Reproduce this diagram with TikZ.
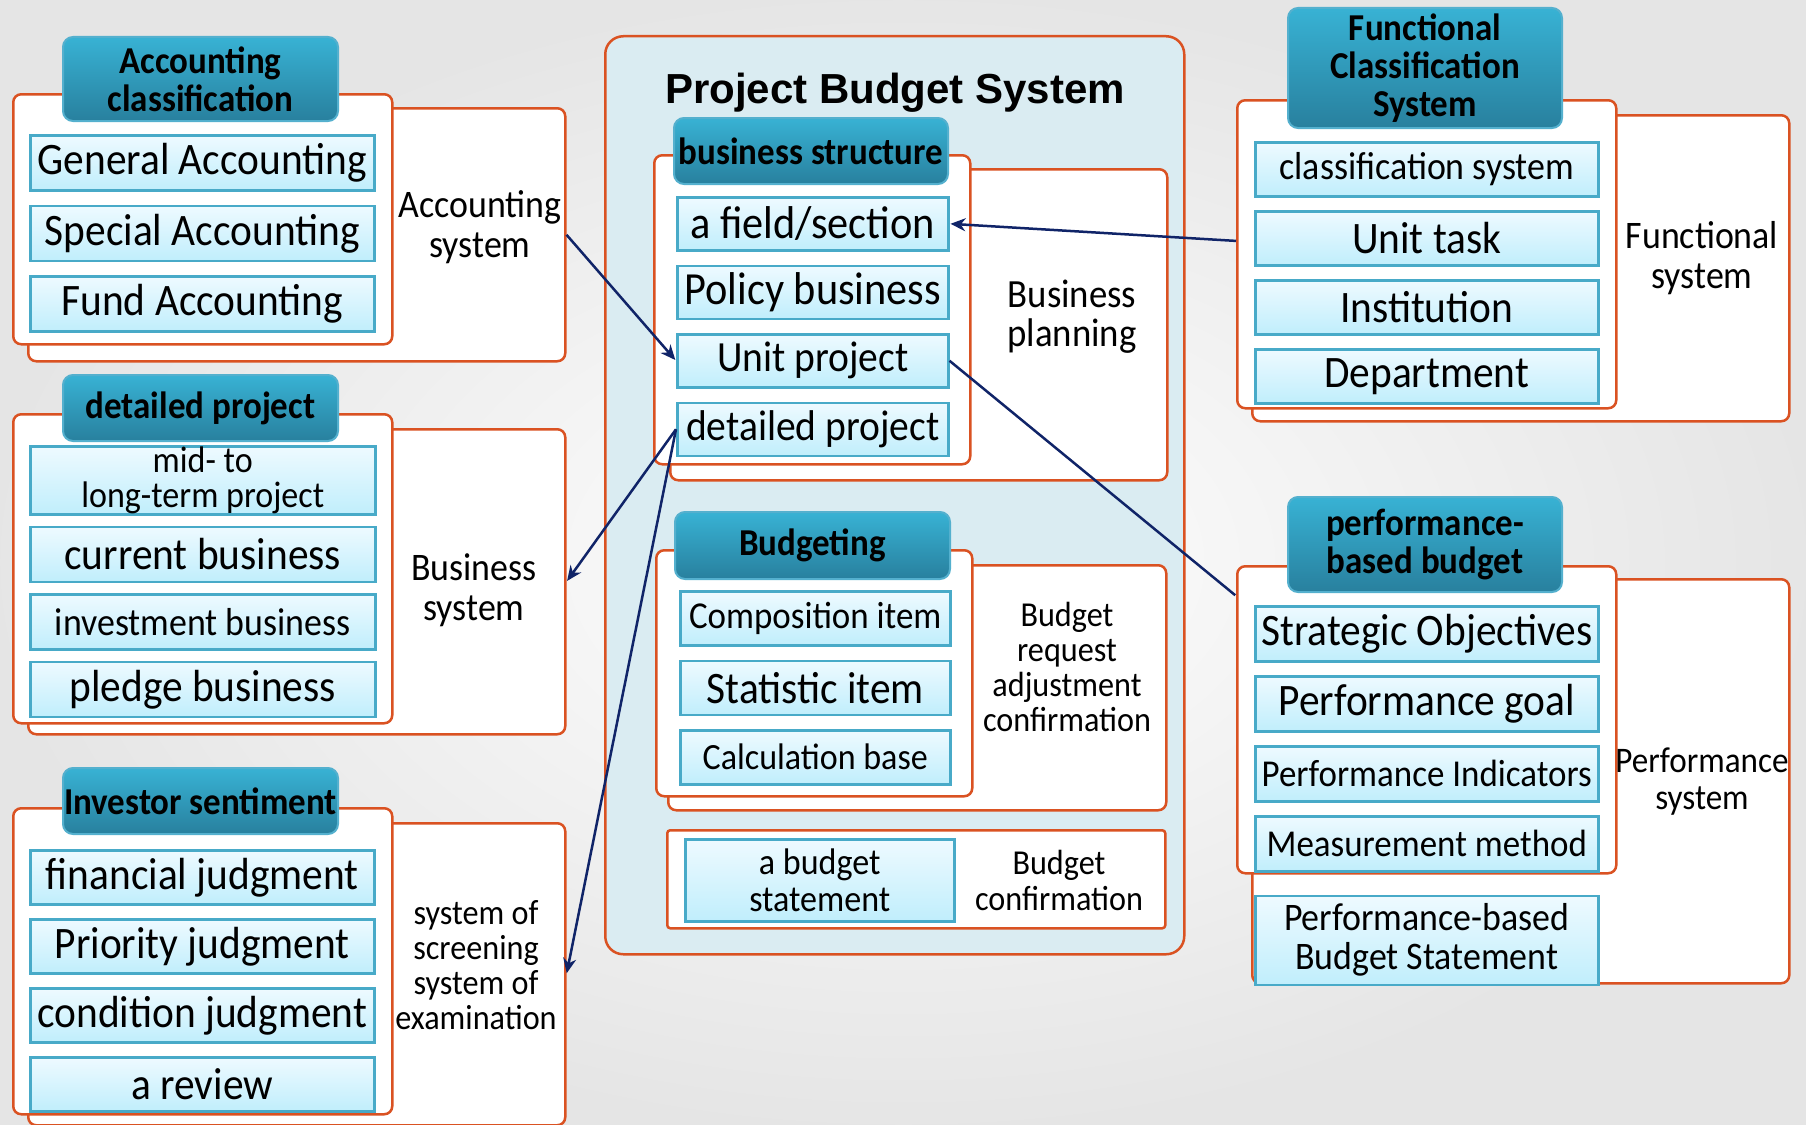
\documentclass[tikz,border=0pt]{standalone}
\usepackage{fontspec}
\setmainfont{Carlito}[FakeStretch=0.92]
\newfontfamily\titlefont{Liberation Sans}
\usetikzlibrary{arrows.meta,positioning}

\definecolor{frameorange}{RGB}{218,82,34}
\definecolor{itemedge}{RGB}{72,170,200}
\definecolor{itemtop}{RGB}{238,250,255}
\definecolor{itembottom}{RGB}{192,238,252}
\definecolor{headtop}{RGB}{56,178,212}
\definecolor{headbottom}{RGB}{40,128,158}
\definecolor{headedge}{RGB}{84,176,206}
\definecolor{panelblue}{RGB}{218,236,242}
\definecolor{linknavy}{RGB}{16,36,104}

\newcommand{\pxfont}[2]{\fontsize{#1}{#2}\selectfont}

\begin{document}
\begin{tikzpicture}[x=1pt,y=-1pt,>={Stealth[length=15pt,width=13pt]},shorten >=1pt,
    frame/.style={draw=frameorange,line width=2.5pt,fill=white,rounded corners=8pt,
      anchor=north west,inner sep=0pt},
    header/.style={draw=headedge,line width=2pt,top color=headtop,bottom color=headbottom,
      rounded corners=10pt,anchor=north west,inner sep=0pt,align=center,
      font=\pxfont{38}{38}\bfseries},
    entry/.style 2 args={draw=itemedge,line width=2.5pt,top color=itemtop,
      bottom color=itembottom,anchor=north west,inner sep=0pt,align=center,
      minimum width=#1,minimum height=#2,font=\pxfont{45}{45}},
    caption/.style={align=center,font=\pxfont{39}{40}},
    link/.style={draw=linknavy,line width=2.5pt}]
% background
\useasboundingbox (0,0) rectangle (1806,1124);
\shade[inner color=white,outer color=black!10] (0,0) rectangle (1806,1124);

% accounting classification
\node[frame,minimum width=537pt,minimum height=253pt] (accB) at (27,107) {};
\node[frame,minimum width=379pt,minimum height=250pt] (accF) at (12,93) {};
\node[header,minimum width=275pt,minimum height=84pt] (accH) at (62,36) {Accounting\\classification};
\node[entry={344pt}{55pt}]                      (genAcc) at (29,134) {General Accounting};
\node[entry={344pt}{55pt},below=13pt of genAcc] (spcAcc)             {Special Accounting};
\node[entry={344pt}{55pt},below=13pt of spcAcc] (fndAcc)             {Fund Accounting};
\node[caption] (accSys) at (480,227) {Accounting\\system};

% detailed project
\node[frame,minimum width=537pt,minimum height=305pt] (detB) at (27,428) {};
\node[frame,minimum width=379pt,minimum height=309pt] (detF) at (12,413) {};
\node[header,minimum width=275pt,minimum height=66pt] (detH) at (62,374) {detailed project};
\node[entry={345pt}{68pt},font=\pxfont{37}{35}]                      (midLong) at (29,445) {mid- to\\long-term project};
\node[entry={345pt}{55pt},below=10pt of midLong]                      (curBus)            {current business};
\node[entry={345pt}{55pt},below=10pt of curBus,font=\pxfont{39}{39}]  (invBus)            {investment business};
\node[entry={345pt}{55pt},below=10pt of invBus]                       (plgBus)            {pledge business};
\node[caption] (busSys) at (474,590) {Business\\system};

% investor sentiment
\node[frame,minimum width=537pt,minimum height=302pt] (invB) at (27,822) {};
\node[frame,minimum width=379pt,minimum height=306pt] (invF) at (12,807) {};
\node[header,minimum width=275pt,minimum height=66pt] (invH) at (62,767) {Investor sentiment};
\node[entry={344pt}{54pt}]                        (finJdg) at (29,849) {financial judgment};
\node[entry={344pt}{54pt},below=12.5pt of finJdg] (priJdg)             {Priority judgment};
\node[entry={344pt}{54pt},below=12.5pt of priJdg] (conJdg)             {condition judgment};
\node[entry={344pt}{54pt},below=12.5pt of conJdg] (review)             {a review};
\node[caption,font=\pxfont{35}{35}] (scrSys) at (476,965) {system of\\screening\\system of\\examination};

% project budget system
\node[frame,fill=panelblue,rounded corners=18pt,minimum width=579pt,minimum height=918pt] (pbs) at (604,35) {};
\node[font=\titlefont\pxfont{42}{42}\bfseries] (title) at (895,93) {Project Budget System};

% business structure
\node[frame,minimum width=497pt,minimum height=311pt] (bsB) at (669,168) {};
\node[frame,minimum width=316pt,minimum height=309pt] (bsF) at (653,154) {};
\node[header,minimum width=274pt,minimum height=66pt] (bsH) at (673,117) {business structure};
\node[entry={271pt}{53pt},font=\pxfont{46}{46}]                      (field)   at (676,196) {a field/section};
\node[entry={271pt}{53pt},below=13pt of field,font=\pxfont{46}{46}]  (policy)              {Policy business};
\node[entry={271pt}{53pt},below=13pt of policy,font=\pxfont{43}{43}] (unitPrj)             {Unit project};
\node[entry={271pt}{53pt},below=13pt of unitPrj,font=\pxfont{43}{43}] (detPrj)             {detailed project};
\node[caption,font=\pxfont{40}{39}] (bsPlan) at (1072,317) {Business\\planning};

% budgeting
\node[frame,minimum width=498pt,minimum height=245pt] (budB) at (667,564) {};
\node[frame,minimum width=316pt,minimum height=246pt] (budF) at (655,549) {};
\node[header,minimum width=275pt,minimum height=67pt] (budH) at (674,511) {Budgeting};
\node[entry={270pt}{54pt},font=\pxfont{38}{38}]                        (compItem) at (679,590) {Composition item};
\node[entry={270pt}{54pt},below=13pt of compItem,font=\pxfont{45}{45}] (statItem)             {Statistic item};
\node[entry={270pt}{54pt},below=13pt of statItem,font=\pxfont{37}{37}] (calcBase)             {Calculation base};
\node[caption,font=\pxfont{35}{35}] (budReq) at (1067,667) {Budget\\request\\adjustment\\confirmation};

% budget confirmation
\node[frame,rounded corners=3pt,minimum width=498pt,minimum height=98pt] (confB) at (666,829) {};
\node[entry={269pt}{82pt},font=\pxfont{37}{37}] (budStmt) at (684,838) {a budget\\statement};
\node[caption,font=\pxfont{35}{36}] (budConf) at (1059,880) {Budget\\confirmation};

% functional classification system
\node[frame,minimum width=537pt,minimum height=306pt] (funB) at (1251,114) {};
\node[frame,minimum width=379pt,minimum height=308pt] (funF) at (1236,99) {};
\node[header,minimum width=274pt,minimum height=120pt] (funH) at (1287,7) {Functional\\Classification\\System};
\node[entry={343pt}{54pt},font=\pxfont{39}{39}]   (clsSys)   at (1254,141) {classification system};
\node[entry={343pt}{54pt},below=12.5pt of clsSys]   (unitTask)             {Unit task};
\node[entry={343pt}{54pt},below=12.5pt of unitTask] (inst)                 {Institution};
\node[entry={343pt}{54pt},below=12.5pt of inst]     (dept)                 {Department};
\node[caption] (funSys) at (1702,258) {Functional\\system};

% performance-based budget
\node[frame,minimum width=537pt,minimum height=404pt] (perfB) at (1251,578) {};
\node[frame,minimum width=379pt,minimum height=307pt] (perfF) at (1236,565) {};
\node[header,minimum width=274pt,minimum height=95pt] (perfH) at (1287,496) {performance-\\based budget};
\node[entry={343pt}{55pt}]                                          (strObj)   at (1254,605) {Strategic Objectives};
\node[entry={343pt}{55pt},below=12.5pt of strObj]                   (perfGoal)             {Performance goal};
\node[entry={343pt}{55pt},below=12.5pt of perfGoal,font=\pxfont{38}{38}] (perfInd)         {Performance Indicators};
\node[entry={343pt}{55pt},below=12.5pt of perfInd,font=\pxfont{38}{38}]  (measMeth)        {Measurement method};
\node[entry={343pt}{89pt},below=22pt of measMeth,font=\pxfont{39}{39}]   (pbbStmt)         {Performance-based\\Budget Statement};
\node[caption,font=\pxfont{36}{37}] (perfSys) at (1702,782) {Performance\\system};

% define the links
\draw[link,->] (accB.east)    -- (unitPrj.west);
\draw[link,->] (funF.176)     -- (field.east);
\draw[link]    (unitPrj.east) -- (perfF.147);
\draw[link,->] (detPrj.west)  -- (detB.east);
\draw[link,->] (detPrj.west)  -- (invB.east);
\end{tikzpicture}
\end{document}
